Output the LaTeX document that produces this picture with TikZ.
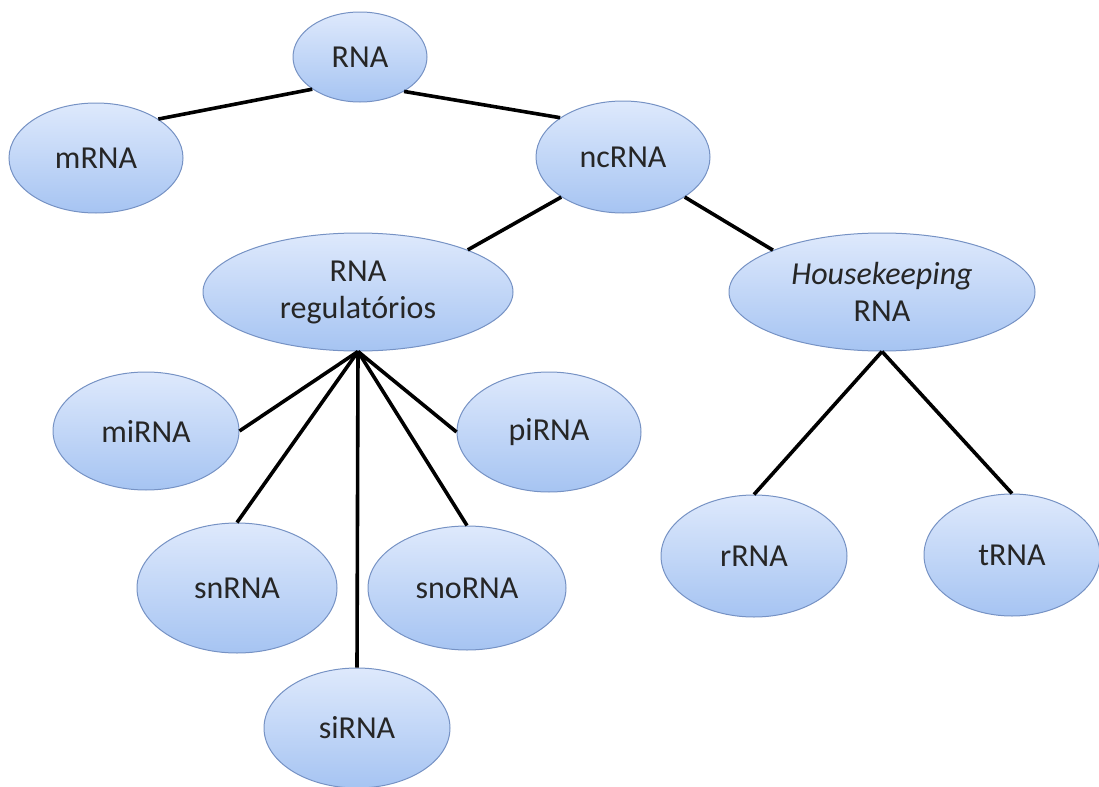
\documentclass[tikz,border=0pt]{standalone}
\usepackage{fontspec}
\setmainfont{Carlito}
\usetikzlibrary{shapes.geometric}
\definecolor{elltop}{RGB}{222,233,252}
\definecolor{ellbot}{RGB}{166,196,242}
\definecolor{ellline}{RGB}{118,146,196}
\begin{document}
\begin{tikzpicture}
  [x=0.5pt,y=-0.5pt,every node/.style={ellipse,draw=ellline,line width=0.5pt,top color=elltop,bottom color=ellbot,inner sep=0pt,align=center,text=black!85,font=\fontsize{16}{18.5}\selectfont}]
 \useasboundingbox (0,0) rectangle (1099,787);
 \node (rna)[minimum width=67pt,minimum height=45pt] at (360,57) {RNA};
  \node (mrna)[minimum width=87pt,minimum height=55pt] at (96,158) {mRNA};
  \node (ncrna)[minimum width=87pt,minimum height=56pt] at (623,157) {ncRNA};
  \node (reg)[minimum width=155pt,minimum height=59pt] at (358,292) {RNA\\regulatórios};
  \node (hk)[minimum width=153pt,minimum height=59pt] at (882,292) {\textit{Housekeeping}\\RNA};
  \node (mi)[minimum width=93pt,minimum height=59pt] at (146,431) {miRNA};
  \node (pi)[minimum width=92pt,minimum height=60pt] at (549,432) {piRNA};
  \node (sn)[minimum width=100pt,minimum height=65pt] at (237,588) {snRNA};
  \node (sno)[minimum width=99pt,minimum height=62pt] at (467,588) {snoRNA};
  \node (si)[minimum width=93pt,minimum height=60pt] at (357,728) {siRNA};
  \node (r)[minimum width=93pt,minimum height=61pt] at (754,556) {rRNA};
  \node (t)[minimum width=88pt,minimum height=61pt] at (1012,555) {tRNA};

 \foreach \from/\to in {rna.214/mrna.32,rna.-38/ncrna.148,ncrna.213/reg.21,ncrna.-33/hk.159,reg.south/mi.east,reg.south/sn.north,reg.south/si.north,reg.south/sno.north,reg.south/pi.west,hk.south/r.north,hk.south/t.north}
    \draw[black,line width=1.8pt] (\from) -- (\to);
\end{tikzpicture}
\end{document}
